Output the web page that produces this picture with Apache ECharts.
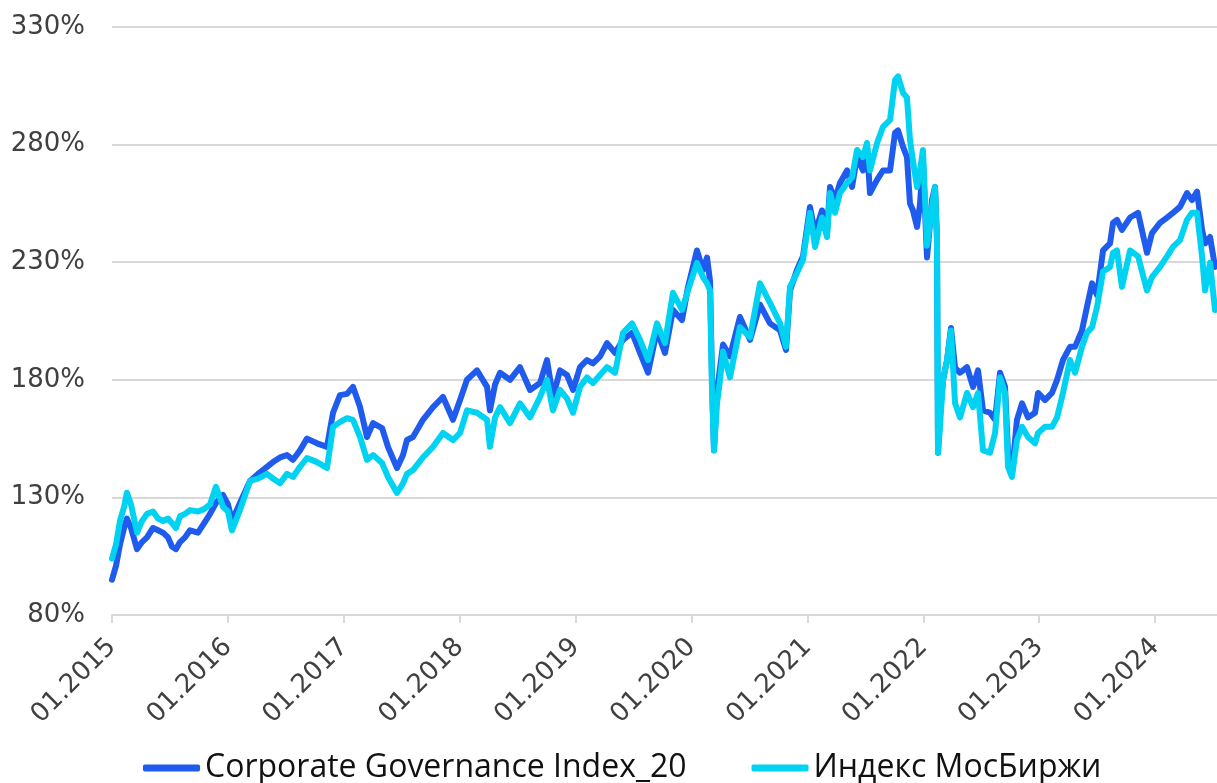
<!DOCTYPE html>
<html>
<head>
<meta charset="utf-8">
<script src="https://cdn.jsdelivr.net/npm/echarts@6/dist/echarts.min.js"></script>
<style>
  html, body { margin: 0; padding: 0; background: #ffffff; }
  #chart { width: 1217px; height: 783px; }
</style>
</head>
<body>
<div id="chart"></div>
<script>
// Time as decimal year
const dates = [
  2015.000, 2015.035, 2015.069, 2015.104, 2015.129, 2015.164, 2015.216, 2015.259, 2015.302, 2015.354,
  2015.397, 2015.440, 2015.483, 2015.518, 2015.552, 2015.587, 2015.630, 2015.673, 2015.742, 2015.794,
  2015.846, 2015.897, 2015.958, 2016.001, 2016.035, 2016.104, 2016.191, 2016.260, 2016.337, 2016.389,
  2016.450, 2016.510, 2016.562, 2016.622, 2016.682, 2016.769, 2016.855, 2016.907, 2016.967, 2017.028,
  2017.079, 2017.140, 2017.200, 2017.252, 2017.330, 2017.381, 2017.459, 2017.511, 2017.545, 2017.597,
  2017.683, 2017.770, 2017.856, 2017.942, 2018.003, 2018.063, 2018.149, 2018.236, 2018.261, 2018.305,
  2018.348, 2018.434, 2018.520, 2018.607, 2018.693, 2018.753, 2018.805, 2018.865, 2018.926, 2018.978,
  2019.038, 2019.098, 2019.150, 2019.211, 2019.271, 2019.340, 2019.409, 2019.487, 2019.556, 2019.625,
  2019.702, 2019.771, 2019.840, 2019.918, 2019.970, 2020.047, 2020.099, 2020.134, 2020.160, 2020.177,
  2020.194, 2020.220, 2020.246, 2020.272, 2020.332, 2020.418, 2020.505, 2020.591, 2020.677, 2020.764,
  2020.815, 2020.850, 2020.910, 2020.962, 2021.022, 2021.066, 2021.126, 2021.169, 2021.195, 2021.238,
  2021.281, 2021.342, 2021.385, 2021.428, 2021.480, 2021.514, 2021.540, 2021.601, 2021.652, 2021.713,
  2021.756, 2021.782, 2021.825, 2021.859, 2021.885, 2021.911, 2021.946, 2021.972, 2021.997, 2022.032,
  2022.075, 2022.101, 2022.118, 2022.127, 2022.144, 2022.170, 2022.204, 2022.239, 2022.274, 2022.317,
  2022.377, 2022.429, 2022.472, 2022.515, 2022.576, 2022.619, 2022.662, 2022.705, 2022.731, 2022.765,
  2022.808, 2022.852, 2022.903, 2022.964, 2022.990, 2023.050, 2023.110, 2023.154, 2023.205, 2023.266,
  2023.309, 2023.369, 2023.412, 2023.456, 2023.499, 2023.551, 2023.611, 2023.637, 2023.671, 2023.714,
  2023.784, 2023.853, 2023.930, 2023.973, 2024.042, 2024.103, 2024.154, 2024.215, 2024.275, 2024.318,
  2024.362, 2024.405, 2024.431, 2024.474, 2024.517
];

const cgi = [
  95, 101, 110, 117, 121, 117, 108, 111, 113, 117,
  116, 115, 113, 109, 108, 111, 113, 116, 115, 119,
  123, 127.6, 131, 127, 120, 127.6, 137, 140, 143, 145,
  147, 148, 146, 150, 155, 153, 151.5, 166, 173.5, 174,
  177, 168.4, 155.7, 161.6, 159.5, 151.5, 142.5, 148, 154.4, 155.7,
  163, 168.4, 172.7, 163, 171.4, 180, 184, 177, 167, 178,
  183, 180, 185.4, 175.7, 178.6, 188.4, 172.7, 184, 182, 175.7,
  185.4, 188.4, 187, 190, 195.6, 191.4, 197, 200, 191.4, 183,
  201, 191.4, 209.7, 205.4, 219.5, 235, 226.7, 232, 222, 180,
  150, 175, 185, 195, 190, 206.7, 197, 212, 204, 201,
  192.7, 218, 226.7, 232.5, 253.5, 242.4, 252, 242.4, 262, 256.4,
  263.7, 269, 262, 274.7, 269, 279, 259.4, 265, 269, 269,
  285, 286, 279, 274.7, 255, 252, 245, 255, 273, 232,
  256.4, 262, 240, 149, 165, 180, 188, 202, 185, 183,
  185.4, 177, 184, 167, 166, 163, 183, 177, 149, 140,
  163, 170, 164, 166, 174.4, 171.4, 174.4, 180, 188.4, 194,
  194, 201, 211, 221, 216, 235, 238, 246.7, 248, 243.7,
  249, 251, 234, 242.4, 246.7, 249, 251, 253.5, 259.4, 256.4,
  260, 243.7, 238, 240.7, 228
];

const moex = [
  104, 110, 120, 126, 132, 127, 115, 120, 123, 124,
  121, 120, 121, 119, 117, 122, 123, 124.6, 124, 125,
  127, 134.5, 126, 124, 116, 124.6, 137, 138, 140, 138,
  136, 140, 138.7, 143, 146.7, 145, 142.5, 160, 162, 163.7,
  163, 155.7, 146, 148, 144.6, 138.7, 131.9, 136, 140, 141.6,
  147, 151.5, 157.4, 154.4, 157.4, 167, 166, 163, 151.5, 164,
  168.4, 161.6, 170, 164, 172.7, 180, 167, 175.7, 172, 166,
  177, 181, 178.6, 182, 185.4, 183, 200, 204, 197, 188.4,
  204, 195.6, 217, 209.7, 218, 229.7, 223.7, 221, 218, 175,
  150, 170, 180, 192, 181, 202.4, 198, 221, 212.7, 204,
  194, 219.5, 225.4, 231, 251, 236.5, 249, 240.7, 259.4, 251,
  259.4, 263.7, 266, 277.7, 274.7, 280.7, 269, 280.7, 287.5, 290.5,
  307.5, 309, 302, 300, 282, 273, 262, 269, 277.7, 237,
  253.5, 262, 240, 149, 160, 180, 188, 201, 170, 164,
  174.4, 168.4, 174.4, 150, 149, 157.4, 181, 174.4, 143, 138.7,
  154.4, 160, 155.7, 153, 157.4, 160, 160, 164, 174.4, 188.4,
  183, 194, 200, 202.4, 211, 226, 228, 234, 235, 219.5,
  235, 232.5, 218, 223.7, 228, 232.5, 236.5, 239.4, 248, 251,
  251, 232.5, 218, 229.7, 209.7
];

const yTicks = { min: 80, max: 330, step: 50 };
const xRange = { min: 2015, max: 2024.534 };
const seriesNames = ['Corporate Governance Index_20', 'Индекс МосБиржи'];

const chart = echarts.init(document.getElementById('chart'));
const axisFont = '"DejaVu Sans", sans-serif';
const legendFont = '"Open Sans", sans-serif';
chart.setOption({
  animation: false,
  backgroundColor: '#ffffff',
  grid: { left: 112, right: 0, top: 27, bottom: 168 },
  legend: {
    bottom: -6,
    left: 138,
    itemWidth: 57,
    itemHeight: 7,
    itemGap: 65,
    icon: 'roundRect',
    textStyle: { fontFamily: legendFont, fontSize: 32, color: '#111111' },
    data: seriesNames
  },
  xAxis: {
    type: 'value',
    min: xRange.min,
    max: xRange.max,
    interval: 1,
    axisLine: { show: true, lineStyle: { color: '#d9d9d9', width: 2 } },
    axisTick: { show: true, length: 8, lineStyle: { color: '#d9d9d9', width: 2 } },
    splitLine: { show: false },
    axisLabel: {
      rotate: 45,
      margin: 28,
      fontFamily: axisFont,
      fontSize: 26,
      color: '#404040',
      showMaxLabel: false,
      formatter: v => (Math.abs(v - Math.round(v)) < 1e-6 ? '01.' + Math.round(v) : '')
    }
  },
  yAxis: {
    type: 'value',
    min: yTicks.min,
    max: yTicks.max,
    interval: yTicks.step,
    axisLine: { show: false },
    axisTick: { show: false },
    splitLine: { show: true, lineStyle: { color: '#d9d9d9', width: 2 } },
    axisLabel: {
      margin: 27,
      fontFamily: axisFont,
      fontSize: 26,
      color: '#404040',
      formatter: '{value}%'
    }
  },
  series: [
    {
      name: seriesNames[0],
      type: 'line',
      showSymbol: false,
      symbol: 'none',
      color: '#1f5bec',
      lineStyle: { width: 6, color: '#1f5bec', join: 'round', cap: 'round' },
      data: dates.map((d, i) => [d, cgi[i]])
    },
    {
      name: seriesNames[1],
      type: 'line',
      showSymbol: false,
      symbol: 'none',
      color: '#00d2f2',
      lineStyle: { width: 6, color: '#00d2f2', join: 'round', cap: 'round' },
      data: dates.map((d, i) => [d, moex[i]])
    }
  ]
});
</script>
</body>
</html>
